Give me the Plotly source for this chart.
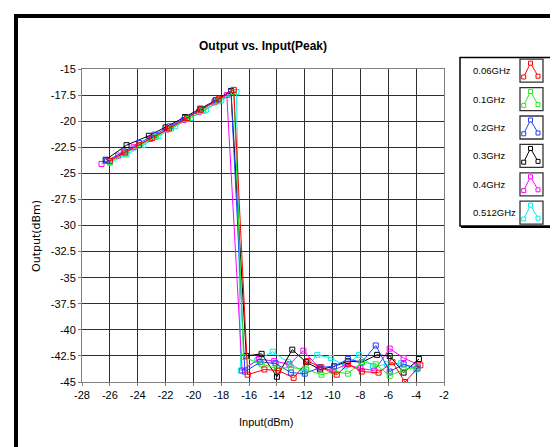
import plotly.graph_objects as go

# ---------------- data ----------------
series_names = ["0.06GHz", "0.1GHz", "0.2GHz", "0.3GHz", "0.4GHz", "0.512GHz"]
series_colors = ["#ff0000", "#22ee22", "#1f3fff", "#000000", "#ff00ff", "#00f0f0"]

in_006 = [-26.0, -24.9, -23.9, -22.95, -21.75, -20.45, -19.45, -18.2, -17.1,
          -16.1, -14.9, -13.9, -12.8, -11.8, -10.8, -9.7, -8.9, -7.9, -6.7, -5.7, -4.8, -3.7]
out_006 = [-23.8, -23.0, -22.3, -21.6, -20.7, -19.7, -18.9, -17.9, -17.0,
           -44.3, -43.8, -43.9, -44.6, -43.0, -43.6, -44.3, -43.3, -44.0, -44.1, -43.1, -45.0, -43.4]

in_01 = [-26.0, -24.9, -23.8, -22.7, -21.6, -20.4, -19.3, -18.2, -17.1,
         -16.4, -15.1, -14.0, -13.0, -11.9, -10.8, -9.9, -8.9, -7.9, -6.9, -5.9, -4.9, -3.9]
out_01 = [-23.9, -23.1, -22.3, -21.5, -20.7, -19.8, -19.0, -18.1, -17.2,
          -42.6, -43.3, -43.7, -43.6, -43.8, -44.3, -44.0, -44.2, -43.1, -43.3, -44.4, -43.8, -43.6]

in_02 = [-26.2, -25.0, -23.9, -22.8, -21.7, -20.6, -19.5, -18.4, -17.3,
         -16.3, -15.2, -14.1, -13.0, -12.0, -10.9, -9.9, -8.9, -7.9, -6.9, -5.9, -4.9, -3.9]
out_02 = [-23.8, -22.9, -22.1, -21.3, -20.5, -19.7, -18.9, -18.0, -17.2,
          -44.0, -43.1, -43.2, -44.1, -44.2, -43.6, -43.5, -42.8, -43.1, -41.5, -44.0, -43.3, -43.7]

in_03 = [-26.3, -24.8, -23.2, -22.0, -20.6, -19.5, -18.4, -17.3,
         -16.2, -15.1, -14.0, -12.9, -11.9, -10.9, -9.9, -8.9, -7.9, -6.8, -5.9, -4.9, -3.8]
out_03 = [-23.7, -22.3, -21.4, -20.6, -19.6, -18.8, -18.0, -17.1,
          -42.5, -42.3, -44.5, -41.9, -43.1, -43.8, -43.5, -43.0, -43.1, -42.4, -42.5, -44.1, -42.8]

in_04 = [-26.6, -25.4, -24.3, -23.1, -21.9, -20.7, -19.6, -18.5, -17.6,
         -16.5, -15.3, -14.2, -13.1, -12.1, -11.0, -10.0, -9.0, -8.0, -7.0, -5.9, -4.9, -3.9]
out_04 = [-24.1, -23.3, -22.5, -21.7, -20.8, -19.9, -19.1, -18.2, -17.5,
          -43.9, -42.8, -43.0, -43.3, -42.0, -43.6, -43.9, -43.3, -43.7, -43.9, -41.8, -42.7, -43.3]

in_0512 = [-26.0, -24.8, -23.6, -22.5, -21.3, -20.2, -19.1, -18.0, -16.9,
           -16.6, -15.4, -14.3, -13.2, -12.1, -11.1, -10.1, -9.1, -8.1, -7.1, -6.1, -5.1, -4.0]
out_0512 = [-24.0, -23.2, -22.3, -21.4, -20.5, -19.7, -18.9, -18.0, -17.2,
            -43.9, -42.9, -42.1, -43.1, -44.0, -42.4, -42.7, -43.5, -42.4, -43.5, -43.3, -43.2, -43.8]

x_ticks = [-28, -26, -24, -22, -20, -18, -16, -14, -12, -10, -8, -6, -4, -2]
x_ticklabels = ["-28", "-26", "-24", "-22", "-20", "-18", "-16", "-14", "-12", "-10", "-8", "-6", "-4", "-2"]
y_ticks = [-15, -17.5, -20, -22.5, -25, -27.5, -30, -32.5, -35, -37.5, -40, -42.5, -45]
y_ticklabels = ["-15", "-17.5", "-20", "-22.5", "-25", "-27.5", "-30", "-32.5", "-35", "-37.5", "-40", "-42.5", "-45"]

inputs = [in_006, in_01, in_02, in_03, in_04, in_0512]
outputs = [out_006, out_01, out_02, out_03, out_04, out_0512]

# ---------------- layout geometry (pixels) ----------------
W, H = 558, 447
ML, MR, MT, MB = 74, 122, 61, 73
PW = W - ML - MR
PH = H - MT - MB


def px(p):
    return (p - ML) / PW


def py(p):
    return (H - MB - p) / PH


FONT = "Liberation Sans, Arial, sans-serif"

fig = go.Figure()
for i in reversed(range(len(series_names))):
    fig.add_trace(go.Scatter(
        x=inputs[i], y=outputs[i], mode="lines+markers", name=series_names[i],
        line=dict(color=series_colors[i], width=1),
        marker=dict(symbol="square-open", size=5, color=series_colors[i], line=dict(width=1)),
        showlegend=False,
    ))

shapes = []
annotations = []

# outer frame
shapes.append(dict(type="rect", xref="paper", yref="paper",
                   x0=px(8), x1=px(600), y0=py(500), y1=py(8),
                   line=dict(color="black", width=4)))

# legend box
shapes.append(dict(type="rect", xref="paper", yref="paper",
                   x0=px(452), x1=px(547), y0=py(218), y1=py(49.5),
                   line=dict(color="black", width=1.5)))
shapes.append(dict(type="line", xref="paper", yref="paper",
                   x0=px(548), x1=px(548), y0=py(219), y1=py(50),
                   line=dict(color="black", width=2)))
shapes.append(dict(type="line", xref="paper", yref="paper",
                   x0=px(453), x1=px(549), y0=py(219), y1=py(219),
                   line=dict(color="black", width=2)))

for i, name in enumerate(series_names):
    yc = 62.7 + 28.4 * i
    c = series_colors[i]
    annotations.append(dict(xref="paper", yref="paper", x=px(463), y=py(yc),
                            xanchor="left", yanchor="middle", showarrow=False,
                            text=name, font=dict(family=FONT, size=9.5, color="black")))
    shapes.append(dict(type="rect", xref="paper", yref="paper",
                       x0=px(512), x1=px(535), y0=py(yc + 11.5), y1=py(yc - 11.5),
                       line=dict(color="#333333", width=1.3), fillcolor="white"))
    pts = [(515.7, yc + 6.3), (522.5, yc - 7.5), (530.0, yc + 5.5)]
    path = "M {} {} L {} {} L {} {}".format(px(pts[0][0]), py(pts[0][1]),
                                            px(pts[1][0]), py(pts[1][1]),
                                            px(pts[2][0]), py(pts[2][1]))
    shapes.append(dict(type="path", xref="paper", yref="paper", path=path,
                       line=dict(color=c, width=1)))
    for (qx, qy) in pts:
        shapes.append(dict(type="rect", xref="paper", yref="paper",
                           x0=px(qx - 2), x1=px(qx + 2), y0=py(qy + 2), y1=py(qy - 2),
                           line=dict(color=c, width=1), fillcolor="white"))

# title and axis titles
annotations.append(dict(xref="paper", yref="paper", x=px(255), y=py(38),
                        xanchor="center", yanchor="middle", showarrow=False,
                        text="<b>Output vs. Input(Peak)</b>",
                        font=dict(family=FONT, size=12, color="black")))
annotations.append(dict(xref="paper", yref="paper", x=px(258), y=py(414),
                        xanchor="center", yanchor="middle", showarrow=False,
                        text="Input(dBm)", font=dict(family=FONT, size=11, color="black")))
annotations.append(dict(xref="paper", yref="paper", x=px(29), y=py(228),
                        xanchor="center", yanchor="middle", showarrow=False, textangle=-90,
                        text="Output(dBm)", font=dict(family="DejaVu Sans, sans-serif", size=11, color="black")))

fig.update_layout(
    width=W, height=H,
    margin=dict(l=ML, r=MR, t=MT, b=MB, pad=0),
    paper_bgcolor="white", plot_bgcolor="white",
    shapes=shapes, annotations=annotations,
    showlegend=False,
    font=dict(family=FONT, size=11, color="black"),
)
fig.update_xaxes(range=[-28, -2], tickvals=x_ticks, ticktext=x_ticklabels,
                 showgrid=True, gridcolor="#303030", gridwidth=1, zeroline=False,
                 showline=True, linecolor="#808080", linewidth=1, mirror=True,
                 ticks="outside", ticklen=3, tickcolor="#808080",
                 tickfont=dict(family=FONT, size=11, color="black"))
fig.update_yaxes(range=[-45, -15], tickvals=y_ticks, ticktext=y_ticklabels,
                 showgrid=True, gridcolor="#303030", gridwidth=1, zeroline=False,
                 showline=True, linecolor="#808080", linewidth=1, mirror=True,
                 ticks="outside", ticklen=3, tickcolor="#808080",
                 tickfont=dict(family=FONT, size=11, color="black"))

fig.write_html("out.html")
